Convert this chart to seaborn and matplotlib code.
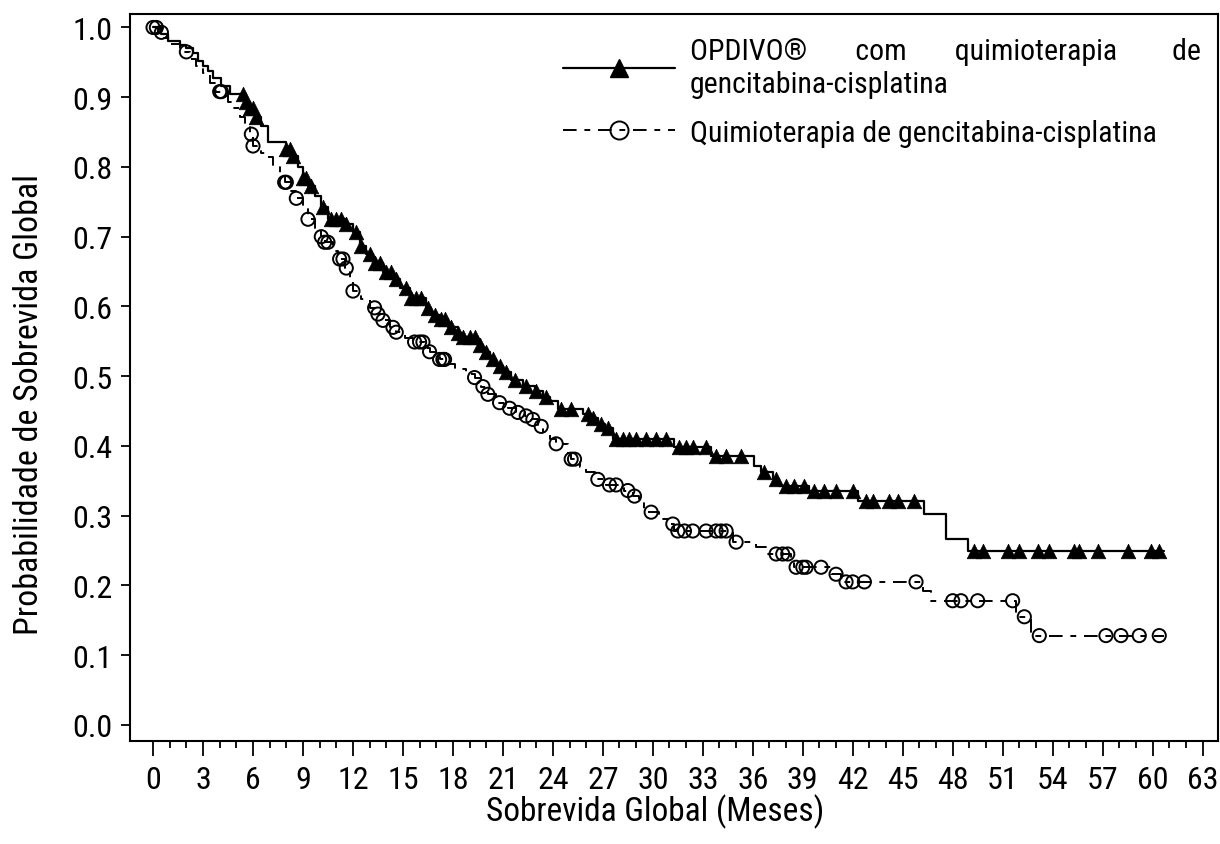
"""Kaplan-Meier curves: OPDIVO + gemcitabine-cisplatin vs chemotherapy alone."""

import matplotlib
matplotlib.use("Agg")
import matplotlib.pyplot as plt
from matplotlib import font_manager
from matplotlib.lines import Line2D
import numpy as np
import pandas as pd
import seaborn as sns

# Step curves: time (months) and survival after each step
opdivo_time = [0, 0.5, 0.9, 1.6, 2.0, 2.4, 2.7, 3.0, 3.3, 3.6, 4.1, 4.6, 5.6, 5.8,
               6.1, 6.5, 6.9, 8.0, 8.3, 8.7, 9.0, 9.3, 9.7, 10.1, 10.5, 11.6, 12.0,
               12.4, 12.8, 13.2, 13.8, 14.4, 14.8, 15.4, 16.4, 16.7, 17.2, 17.7,
               18.3, 18.6, 19.5, 19.8, 20.2, 20.6, 21.0, 21.5, 22.2, 22.9, 23.4,
               23.8, 24.3, 25.8, 26.3, 26.7, 27.1, 27.6, 31.3, 33.5, 36.1, 36.5,
               37.2, 37.6, 39.4, 42.3, 46.3, 47.6, 48.9]
opdivo_surv = [1.0, 0.99, 0.98, 0.975, 0.97, 0.964, 0.952, 0.945, 0.938, 0.928,
               0.916, 0.904, 0.893, 0.885, 0.872, 0.858, 0.836, 0.826, 0.815, 0.80,
               0.784, 0.772, 0.758, 0.742, 0.725, 0.718, 0.706, 0.686, 0.675, 0.662,
               0.65, 0.639, 0.626, 0.612, 0.598, 0.588, 0.582, 0.571, 0.562, 0.556,
               0.545, 0.534, 0.524, 0.515, 0.506, 0.494, 0.486, 0.479, 0.47, 0.464,
               0.453, 0.446, 0.44, 0.432, 0.425, 0.41, 0.398, 0.385, 0.371, 0.362,
               0.352, 0.343, 0.336, 0.321, 0.303, 0.266, 0.249]
opdivo_censor = [5.4, 5.6, 5.8, 6.0, 6.2, 8.0, 8.2, 8.4, 9.0, 9.2, 9.5, 10.2, 10.7,
                 11.0, 11.3, 11.6, 12.2, 12.5, 13.0, 13.3, 13.6, 14.0, 14.3, 14.6,
                 15.2, 15.5, 15.8, 16.1, 16.5, 16.9, 17.3, 17.5, 17.9, 18.3, 18.6,
                 19.0, 19.3, 19.6, 20.0, 20.4, 20.8, 21.2, 21.7, 22.4, 23.0, 23.6,
                 24.5, 25.1, 26.1, 26.4, 26.9, 27.3, 27.8, 28.2, 28.6, 29.0, 29.6,
                 30.2, 30.8, 31.6, 32.0, 32.4, 33.2, 33.8, 34.4, 35.3, 36.7, 37.4,
                 38.0, 38.5, 39.1, 39.7, 40.3, 41.0, 42.0, 42.8, 43.2, 44.2, 44.7,
                 45.7, 49.3, 49.8, 51.3, 52.0, 53.1, 53.8, 55.3, 55.6, 56.7, 58.5,
                 59.9, 60.4]

chemo_time = [0, 0.3, 0.6, 1.1, 1.6, 2.2, 2.6, 3.0, 3.4, 3.8, 4.5, 4.8, 5.2, 5.5,
              5.8, 6.0, 6.5, 6.8, 7.2, 7.6, 7.9, 8.3, 8.6, 9.0, 9.3, 9.7, 10.1,
              10.3, 10.8, 11.1, 11.5, 11.8, 12.0, 12.5, 13.0, 13.4, 13.8, 14.2,
              14.6, 15.1, 15.6, 16.3, 16.6, 17.2, 17.6, 18.1, 18.8, 19.3, 19.7,
              20.1, 20.6, 21.3, 21.8, 22.3, 22.7, 23.1, 23.4, 23.8, 24.2, 24.9,
              25.1, 25.6, 26.0, 26.5, 27.2, 28.3, 28.8, 29.2, 29.5, 30.4, 31.0,
              31.3, 34.8, 36.2, 36.8, 38.3, 38.5, 40.7, 41.3, 46.2, 46.7, 51.8,
              52.7]
chemo_surv = [1.0, 0.993, 0.985, 0.976, 0.965, 0.955, 0.945, 0.935, 0.92, 0.908,
              0.893, 0.884, 0.871, 0.86, 0.847, 0.83, 0.82, 0.814, 0.803, 0.79,
              0.778, 0.766, 0.755, 0.74, 0.725, 0.712, 0.70, 0.692, 0.68, 0.668,
              0.655, 0.64, 0.622, 0.61, 0.598, 0.589, 0.58, 0.57, 0.563, 0.555,
              0.549, 0.54, 0.535, 0.524, 0.518, 0.51, 0.503, 0.498, 0.485, 0.474,
              0.462, 0.454, 0.448, 0.443, 0.438, 0.428, 0.42, 0.41, 0.403, 0.39,
              0.381, 0.37, 0.362, 0.352, 0.344, 0.336, 0.328, 0.32, 0.305, 0.295,
              0.288, 0.278, 0.262, 0.255, 0.245, 0.236, 0.226, 0.216, 0.205, 0.192,
              0.178, 0.155, 0.128]
chemo_censor = [0.0, 0.2, 0.5, 2.0, 4.0, 4.1, 5.9, 6.0, 7.9, 8.0, 8.6, 9.3, 10.1,
                10.3, 10.5, 11.2, 11.4, 11.6, 12.0, 13.3, 13.5, 13.8, 14.4, 14.6,
                15.7, 16.0, 16.2, 16.6, 17.2, 17.4, 17.5, 19.3, 19.8, 20.1, 20.8,
                21.4, 21.9, 22.4, 22.8, 23.3, 24.2, 25.1, 25.3, 26.7, 27.4, 27.8,
                28.5, 28.9, 29.9, 31.2, 31.5, 31.9, 32.4, 33.2, 33.8, 34.1, 34.4,
                35.0, 37.4, 37.8, 38.1, 38.6, 39.0, 39.2, 40.1, 41.0, 41.6, 42.0,
                42.7, 45.8, 48.0, 48.5, 49.5, 51.6, 52.3, 53.2, 57.2, 58.1, 59.2,
                60.4]
follow_up_end = 60.7

x_ticks = list(range(0, 64, 3))
y_ticks = [round(v * 0.1, 1) for v in range(11)]

label_opdivo = "OPDIVO®       com       quimioterapia        de\ngencitabina-cisplatina"
label_chemo = "Quimioterapia de gencitabina-cisplatina"

chemo_dash = (0, (7, 4, 3, 4))


def step_frame(times, surv):
    t = list(times) + [follow_up_end]
    s = list(surv) + [surv[-1]]
    return pd.DataFrame({"t": t, "s": s})


def censor_frame(times, surv, censor):
    idx = np.searchsorted(np.asarray(times), np.asarray(censor), side="right") - 1
    return pd.DataFrame({"t": censor, "s": np.asarray(surv)[idx]})


sns.set_theme(style="ticks")
available = {f.name for f in font_manager.fontManager.ttflist}
preferred = ["Liberation Sans Narrow", "Arial Narrow", "Roboto Condensed",
             "Archivo Narrow", "PT Sans Narrow"]
found = [p for p in preferred if p in available]
family = found[0] if found else "Liberation Sans"
plt.rcParams["font.family"] = [family, "DejaVu Sans"]
for key in ["text.color", "axes.labelcolor", "xtick.color", "ytick.color"]:
    plt.rcParams[key] = "black"

fig = plt.figure(figsize=(12.2, 8.45), dpi=100)
ax = fig.add_axes([0.1066, 0.122, 0.8914, 0.860])

sns.lineplot(data=step_frame(opdivo_time, opdivo_surv), x="t", y="s",
             drawstyle="steps-post", color="black", linewidth=1.6,
             estimator=None, sort=False, ax=ax)
sns.lineplot(data=step_frame(chemo_time, chemo_surv), x="t", y="s",
             drawstyle="steps-post", color="black", linewidth=1.4,
             linestyle=chemo_dash, estimator=None, sort=False, ax=ax)
sns.scatterplot(data=censor_frame(opdivo_time, opdivo_surv, opdivo_censor),
                x="t", y="s", marker="^", s=110, color="black",
                edgecolor="black", linewidth=0.5, ax=ax, zorder=3)
sns.scatterplot(data=censor_frame(chemo_time, chemo_surv, chemo_censor),
                x="t", y="s", marker="o", s=90, facecolor="none",
                edgecolor="black", linewidth=1.4, ax=ax, zorder=3)

ax.set_xlim(-1.38, 63.9)
ax.set_ylim(-0.023, 1.019)
ax.set_xticks(x_ticks)
ax.set_xticks(range(0, 64), minor=True)
ax.set_yticks(y_ticks)
ax.set_yticklabels([f"{v:.1f}" for v in y_ticks])

ax.tick_params(axis="x", which="major", length=11, width=1.3, labelsize=23,
               pad=6, color="black")
ax.tick_params(axis="x", which="minor", length=5, width=1.3, color="black")
ax.tick_params(axis="y", which="major", length=6.5, width=1.3, labelsize=23,
               pad=6, color="black")
for side in ax.spines.values():
    side.set_linewidth(1.5)
    side.set_color("black")

ax.set_xlabel("Sobrevida Global (Meses)", fontsize=24)
ax.set_ylabel("Probabilidade de Sobrevida Global", fontsize=24.5)
ax.xaxis.set_label_coords(0.4825, -0.073)
ax.yaxis.set_label_coords(-0.078, 0.464)

handles = [
    Line2D([], [], color="black", linewidth=1.6, marker="^", markersize=13),
    Line2D([], [], color="black", linewidth=1.4, linestyle=chemo_dash,
           marker="o", markersize=13, markerfacecolor="none",
           markeredgewidth=1.4),
]
ax.legend(handles, [label_opdivo, label_chemo], loc="upper left",
          bbox_to_anchor=(0.398, 0.968), frameon=False, fontsize=21.5,
          handlelength=3.75, handletextpad=0.5, labelspacing=0.7,
          borderpad=0, borderaxespad=0)

fig.savefig("out.png", dpi=100)
